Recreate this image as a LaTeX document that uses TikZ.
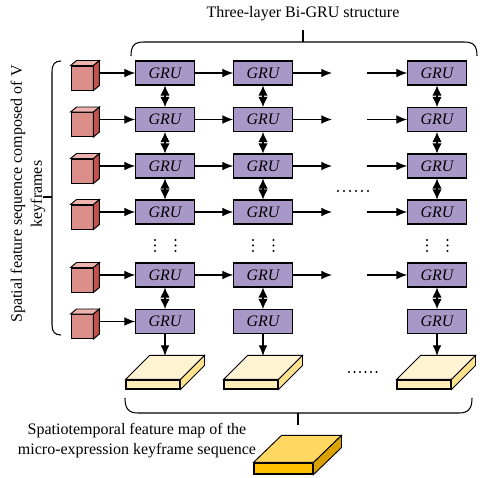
\documentclass[tikz,border=0pt]{standalone}
\usepackage{fontspec}
\setmainfont{Liberation Serif}
\usepackage{tikz}
\usetikzlibrary{arrows.meta,positioning,calc}
\usepackage{xcolor}
\definecolor{grufill}{HTML}{A898C8}
\definecolor{cubefront}{HTML}{DC8E88}
\definecolor{cubetop}{HTML}{EDB3AE}
\definecolor{cubeside}{HTML}{C4524C}
\definecolor{slabtop}{HTML}{FFF3D2}
\definecolor{slabfront}{HTML}{FFEBB5}
\definecolor{slabside}{HTML}{FFE38C}
\definecolor{maptop}{HTML}{FFD761}
\definecolor{mapfront}{HTML}{FFC000}
\definecolor{mapside}{HTML}{D9A200}

\tikzset{
  gru/.style={draw, fill=grufill, minimum width=44pt, minimum height=18pt,
    inner sep=0pt, line width=0.8pt, font=\fontsize{12}{14}\selectfont\itshape},
  cube/.style={draw, fill=cubefront, minimum width=16.5pt, minimum height=18pt,
    inner sep=0pt, line width=0.7pt},
  slab/.style={draw, fill=slabfront, minimum width=40.5pt, minimum height=6.75pt,
    inner sep=0pt, line width=0.8pt},
  arr/.style={-{Latex[length=8pt,width=6.5pt]}, line width=0.8pt},
  biarr/.style={{Latex[length=7.5pt,width=7pt]}-{Latex[length=7.5pt,width=7pt]}, line width=0.8pt},
  lbl/.style={font=\fontsize{12}{15}\selectfont, align=center},
  brace/.style={line width=0.8pt},
}

% top and side faces of a box drawn behind its front node
\newcommand{\boxfaces}[5]{%
  \draw[fill=#4, line width=0.7pt] (#1.north west) -- ++(#2,-#3)
    -- ([shift={(#2,-#3)}]#1.north east) -- (#1.north east) -- cycle;
  \draw[fill=#5, line width=0.7pt] (#1.north east) -- ([shift={(#2,-#3)}]#1.north east)
    -- ([shift={(#2,-#3)}]#1.south east) -- (#1.south east) -- cycle;
}

\begin{document}
\begin{tikzpicture}[x=0.75pt, y=-0.75pt]
  \useasboundingbox (0,0) rectangle (480,478);

  % Keyframe cubes and GRU cells
  \foreach \r/\y in {1/73,2/119.5,3/166,4/212,5/275,6/321.5}{
    \node[cube] (v\r) at (82,\y+5) {};
    \boxfaces{v\r}{6}{5}{cubetop}{cubeside}
    \foreach \c/\x in {1/165,2/263,3/437}
      \node[gru] (g\r\c) at (\x,\y) {GRU};
    \draw[arr] ([shift={(6,-5)}]v\r.east) -- (g\r1);
  }

  % Forward connections
  \foreach \r/\y in {1/73,2/119.5,3/166,4/212,5/275}{
    \coordinate (p\r) at (332,\y);
    \coordinate (q\r) at (367,\y);
    \draw[arr] (g\r1) -- (g\r2);
    \draw[arr] (g\r2) -- (p\r);
    \draw[arr] (q\r) -- (g\r3);
  }

  % Bidirectional links
  \foreach \c in {1,2,3}
    \foreach \a/\b in {1/2,2/3,3/4,5/6}
      \draw[biarr] (g\a\c) -- (g\b\c);

  % Dots
  \foreach \x in {165,263,437}
    \foreach \dx in {-10,10.5}
      \foreach \y in {240,245.5,251}
        \fill (\x+\dx,\y) circle (0.9pt);
  \foreach \x in {338,344,350,356,362,368}
    \fill (\x,191) circle (0.9pt);
  \foreach \x in {349,354.5,360,365.5,371,376.5}
    \fill (\x,372) circle (0.9pt);

  % Output slabs
  \foreach \c/\x/\gx in {1/153/165,2/251/263,3/424/437}{
    \node[slab] (s\c) at (\x,384.5) {};
    \boxfaces{s\c}{24}{24}{slabtop}{slabside}
    \coordinate (t\c) at (\gx,356);
    \draw[arr] (g6\c) -- (t\c);
  }

  % Final feature map
  \node[slab, fill=mapfront, minimum width=44.25pt, minimum height=8.25pt] (fmap) at (283.5,468.5) {};
  \boxfaces{fmap}{28}{27}{maptop}{mapside}

  % Braces
  \draw[brace] (131,56) .. controls (131,46) and (134,42) .. (144,42) -- (464,42)
    .. controls (474,42) and (477,46) .. (477,56);
  \draw[brace] (303,42) -- (303,30);
  \draw[brace] (61,61) .. controls (55,61) and (52,64) .. (52,72) -- (52,325)
    .. controls (52,332) and (55,335) .. (61,335);
  \draw[brace] (52,197) -- (43,197);
  \draw[brace] (125,398) .. controls (125,408) and (128,413) .. (138,413) -- (459,413)
    .. controls (469,413) and (472,408) .. (472,398);
  \draw[brace] (298,413) -- (298,425);

  % Labels
  \node[lbl] (title) at (303,14) {Three-layer Bi-GRU structure};
  \node[lbl, rotate=90] (seqlbl) at (28,194) {Spatial feature sequence composed of V\\keyframes};
  \node[lbl] (maplbl) at (137,441) {Spatiotemporal feature map of the\\micro-expression keyframe sequence};
\end{tikzpicture}
\end{document}
